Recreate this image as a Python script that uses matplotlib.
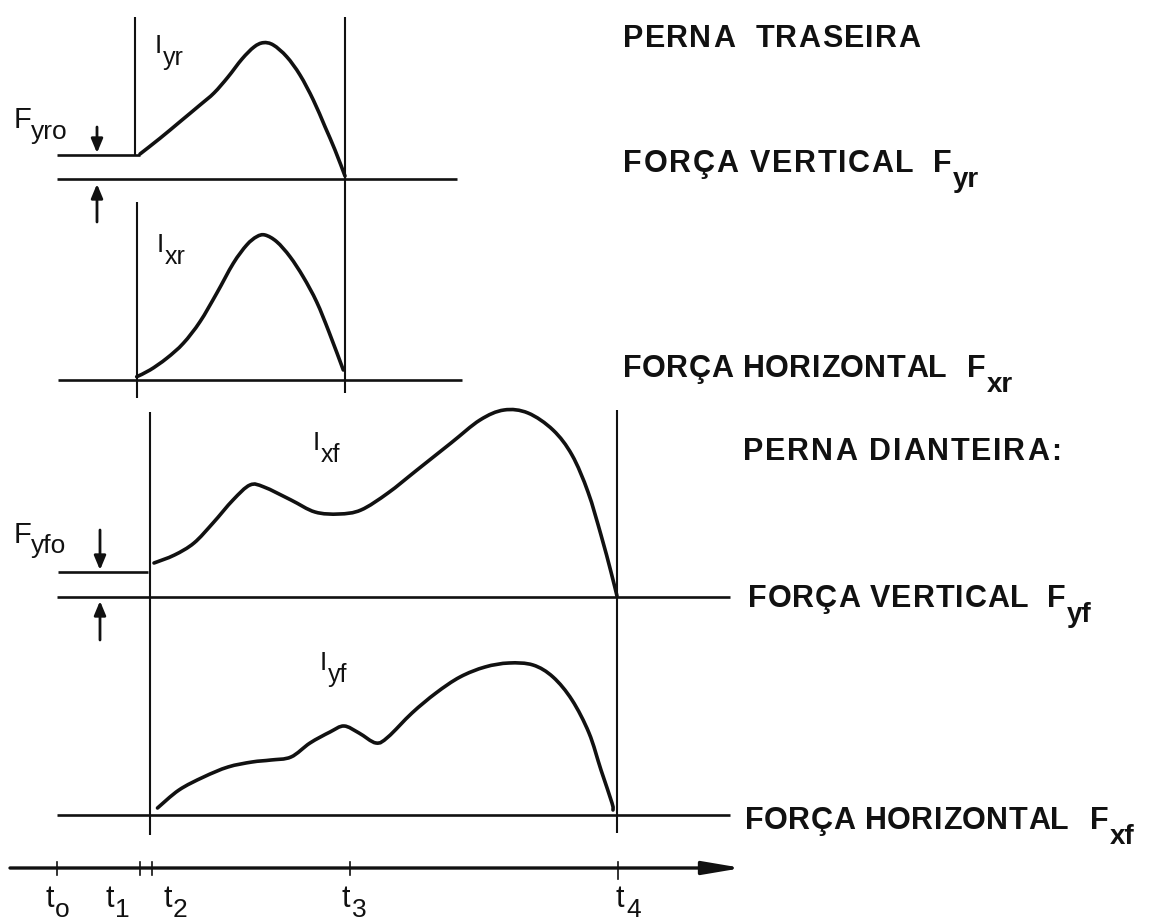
import matplotlib
matplotlib.use("Agg")
import numpy as np
import matplotlib.pyplot as plt
from matplotlib import font_manager
from matplotlib.font_manager import FontProperties
from matplotlib.ft2font import FT2Font
from matplotlib.path import Path
from matplotlib.patches import PathPatch

# ---------------- data (schematic units = image pixels, y downward) ----------------
# rear leg, vertical force F_yr
fyr_t = [140, 160, 180, 200, 214, 228, 242, 254, 263.3, 273.3, 286.7, 300, 313.3, 325, 335, 345]
fyr_v = [154, 138.3, 121.7, 105, 93, 77, 59, 47, 42.7, 45, 56.7, 75, 100, 126.7, 150, 176]
# rear leg, horizontal force F_xr
fxr_t = [136.7, 150, 166.7, 183.3, 200, 216.7, 233.3, 246.7, 256.7, 265, 276.7, 290, 303.3, 316.7, 329, 343.3]
fxr_v = [376.7, 370, 358.3, 343.3, 321.7, 293.3, 263.3, 245, 236.7, 235, 241.7, 256.7, 277, 302, 332, 370]
# front leg, vertical force F_yf (curve labelled I_xf)
fyf_t = [154, 174.5, 194, 213, 233, 250, 264, 291, 315, 339, 361, 388, 417, 451, 480, 504, 528, 553, 572, 588, 601, 611, 617]
fyf_v = [563, 555, 543, 523, 500, 485, 487, 500, 512, 514, 510, 493, 470, 443, 420, 410, 413, 430, 455, 492, 535, 572, 596]
# front leg, horizontal force F_xf (curve labelled I_yf)
fxf_t = [157.5, 179, 203.6, 228, 252, 271, 291, 310, 330, 344, 359, 376, 388, 412, 436, 460, 485, 509, 533, 553, 572, 589, 601, 612, 613]
fxf_v = [808, 790, 777, 767, 762, 760, 757, 743, 732, 726, 733, 743, 737, 713, 693, 677, 667, 663, 665, 677, 700, 733, 770, 803, 810]

time_ticks = [57, 140, 152, 350, 618]
time_subs = ["o", "1", "2", "3", "4"]
time_label_x = [45, 105, 163, 342, 616]

right_labels = ["PERNA  TRASEIRA", "FORÇA VERTICAL", "FORÇA HORIZONTAL",
                "PERNA DIANTEIRA:", "FORÇA VERTICAL", "FORÇA HORIZONTAL"]
right_x0 = [623, 623, 623, 743, 748, 745]
right_x1 = [918, 912, 945, 1060, 1027, 1067]
right_base = [47, 172, 377, 460, 607, 829]
force_subs = [None, "yr", "xr", None, "yf", "xf"]
force_F_x = [None, 933, 967, None, 1047, 1090]

impulse_subs = ["yr", "xr", "xf", "yf"]
impulse_I_x = [155, 157, 313, 320]
impulse_base = [53, 252, 450, 670]

INK = "#111111"

fig = plt.figure(figsize=(11.61, 9.23), dpi=100)
ax = fig.add_axes([0, 0, 1, 1])
ax.set_xlim(0, 1161)
ax.set_ylim(923, 0)
ax.axis("off")
fig.patch.set_facecolor("white")

names = {f.name for f in font_manager.fontManager.ttflist}
SANS = "Liberation Sans" if "Liberation Sans" in names else "DejaVu Sans"


def advances(s, prop):
    path = font_manager.findfont(prop)
    f = FT2Font(path)
    f.set_size(prop.get_size_in_points(), 100)
    out = []
    for ch in s:
        g = f.load_char(ord(ch))
        out.append(g.linearHoriAdvance / 65536.0)
    return out


def spaced_text(x0, x1, y, s, size, weight="bold", family=SANS):
    prop = FontProperties(family=family, weight=weight, size=size)
    adv = advances(s, prop)
    natural = sum(adv[:-1]) + adv[-1] * 0.9
    track = (x1 - x0 - natural) / max(len(s) - 1, 1)
    x = x0
    for ch, a in zip(s, adv):
        if ch != " ":
            ax.text(x, y, ch, fontproperties=prop, va="baseline", ha="left", color=INK)
        x += a + track


def smooth_curve(xs, ys, lw=2.6):
    P = np.column_stack([xs, ys]).astype(float)
    n = len(P)
    verts = [P[0]]
    codes = [Path.MOVETO]
    for i in range(n - 1):
        p0 = P[i - 1] if i > 0 else P[i]
        p1 = P[i]
        p2 = P[i + 1]
        p3 = P[i + 2] if i + 2 < n else P[i + 1]
        c1 = p1 + (p2 - p0) / 6.0
        c2 = p2 - (p3 - p1) / 6.0
        verts += [c1, c2, p2]
        codes += [Path.CURVE4] * 3
    ax.add_patch(PathPatch(Path(verts, codes), fill=False, edgecolor=INK, lw=lw,
                           capstyle="round", joinstyle="round"))


def hline(y, x0, x1, lw=1.9):
    ax.plot([x0, x1], [y, y], color=INK, lw=lw, solid_capstyle="butt")


def vline(x, y0, y1, lw=1.5):
    ax.plot([x, x], [y0, y1], color=INK, lw=lw, solid_capstyle="butt")


# rear leg panels
vline(135, 17, 155)
vline(345, 17, 393)
vline(136.5, 202, 398)
hline(155, 57, 140)
hline(179, 57, 457)
hline(380, 58, 462)
# front leg panels
vline(150, 412, 835)
vline(617, 410, 833)
hline(572, 58, 148)
hline(597, 57, 730)
hline(815, 57, 730)

smooth_curve(fyr_t, fyr_v)
smooth_curve(fxr_t, fxr_v)
smooth_curve(fyf_t, fyf_v)
smooth_curve(fxf_t, fxf_v)

# offset arrows
arr = dict(arrowstyle="-|>,head_length=0.6,head_width=0.25", color=INK, lw=2.0,
           mutation_scale=14, shrinkA=0, shrinkB=0)
ax.annotate("", xy=(97, 153), xytext=(97, 127), arrowprops=arr)
ax.annotate("", xy=(97, 184), xytext=(97, 222), arrowprops=arr)
ax.annotate("", xy=(100, 570), xytext=(100, 530), arrowprops=arr)
ax.annotate("", xy=(100, 601), xytext=(100, 640), arrowprops=arr)

# time axis
ax.annotate("", xy=(742, 868), xytext=(10, 868),
            arrowprops=dict(arrowstyle="-|>,head_length=1.3,head_width=0.22", color=INK,
                            lw=2.4, mutation_scale=18, shrinkA=0, shrinkB=0))
for i, tx in enumerate(time_ticks):
    y1 = 879 if i == len(time_ticks) - 1 else 875
    ax.plot([tx, tx], [862, y1], color=INK, lw=1.2)

# ---------------- text ----------------
for s, x0, x1, yb, sub, fx in zip(right_labels, right_x0, right_x1, right_base,
                                  force_subs, force_F_x):
    spaced_text(x0, x1, yb, s, 22)
    if sub:
        ax.text(fx, yb, "F", family=SANS, weight="bold", fontsize=22, va="baseline", color=INK)
        ax.text(fx + 20, yb + 15, sub, family=SANS, weight="bold", fontsize=20,
                va="baseline", color=INK)

for sub, ix, yb in zip(impulse_subs, impulse_I_x, impulse_base):
    ax.text(ix, yb, "I", family=SANS, fontsize=19, va="baseline", color=INK)
    ax.text(ix + 8, yb + 12, sub, family=SANS, fontsize=18, va="baseline", color=INK)

# offset-force labels
ax.text(14, 128, "F", family=SANS, fontsize=21, va="baseline", color=INK)
ax.text(31, 139, "yro", family=SANS, fontsize=19, va="baseline", color=INK)
ax.text(14, 543, "F", family=SANS, fontsize=21, va="baseline", color=INK)
ax.text(31, 553, "yfo", family=SANS, fontsize=19, va="baseline", color=INK)

for lx, sub in zip(time_label_x, time_subs):
    ax.text(lx, 907, "t", family=SANS, fontsize=22, va="baseline", color=INK)
    ax.text(lx + 10, 917, sub, family=SANS, fontsize=19, va="baseline", color=INK)

fig.savefig("out.png", dpi=100, facecolor="white")
